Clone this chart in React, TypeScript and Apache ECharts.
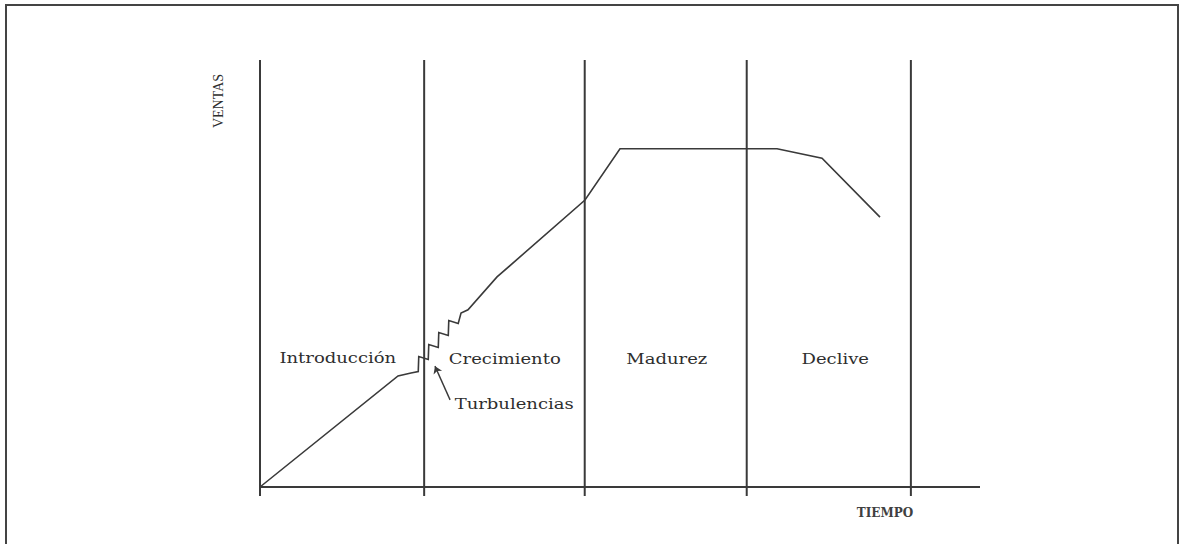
import React, { useEffect, useRef } from "react";
import * as echarts from "echarts";

// Sales curve (time units 0..100, sales units 0..100)
const salesX = [0, 19.17, 20.97, 21.98, 22.05, 23.37, 23.44, 24.76, 24.83, 26.15, 26.22, 27.53, 27.92, 28.89, 32.92, 45.14, 50.0, 71.81, 78.06, 86.11];
const salesY = [0, 26.0, 26.7, 27.05, 30.56, 29.86, 33.37, 32.67, 36.18, 35.48, 38.99, 38.29, 40.75, 41.5, 49.2, 67.2, 79.2, 79.2, 77.0, 63.2];

// Stage boundaries on the time axis
const stageBounds = [0, 22.8, 45.1, 67.6, 90.4];
const boundTop = 100;
const boundBottom = -2.1;
const axisEnd = 100;

// Stage labels
const stageLabels = ["Introducción", "Crecimiento", "Madurez", "Declive"];
const stageLabelX = [10.8, 34.0, 56.5, 79.9];
const stageLabelY = [30.2, 30.0, 30.0, 30.0];

// Annotation
const noteLabel = "Turbulencias";
const noteX = 35.3;
const noteY = 19.4;
const arrowFrom = [26.4, 20.4];
const arrowTo = [24.3, 28.3];

// Axis titles
const yTitle = "VENTAS";
const yTitlePos = [-5.7, 90.4];
const xTitle = "TIEMPO";
const xTitlePos = [86.8, -6.1];

const INK = "#3a3a3a";

export default function App() {
  const ref = useRef<HTMLDivElement>(null);
  useEffect(() => {
    if (!ref.current) return;
    const chart = echarts.init(ref.current, undefined, { renderer: "svg" });
    const series: any[] = [];
    stageBounds.forEach((b) => {
      series.push({
        type: "line",
        data: [[b, boundBottom], [b, boundTop]],
        symbol: "none",
        lineStyle: { color: INK, width: 2 },
        silent: true,
      });
    });
    series.push({
      type: "line",
      data: [[0, 0], [axisEnd, 0]],
      symbol: "none",
      lineStyle: { color: INK, width: 2 },
      silent: true,
    });
    series.push({
      type: "line",
      data: salesX.map((x, i) => [x, salesY[i]]),
      symbol: "none",
      lineStyle: { color: INK, width: 1.6, join: "miter" },
      silent: true,
      markLine: {
        silent: true,
        symbol: ["none", "arrow"],
        symbolSize: 7,
        label: { show: false },
        lineStyle: { color: INK, width: 1.4, type: "solid" },
        data: [[{ coord: arrowFrom }, { coord: arrowTo }]],
      },
    });

    const option: any = {
      animation: false,
      backgroundColor: "#ffffff",
      grid: { left: 188, right: 127, top: 60, bottom: 14.3 },
      xAxis: { type: "value", min: -10, max: 110, show: false },
      yAxis: { type: "value", min: -10, max: 100, show: false },
      series,
    };
    chart.setOption(option);

    const toPx = (p: number[]) => chart.convertToPixel({ gridIndex: 0 }, p) as number[];
    const font = "15px 'DejaVu Serif'";
    const fill = "#2e2e2e";
    const texts: any[] = [];
    stageLabels.forEach((t, i) => {
      const [x, y] = toPx([stageLabelX[i], stageLabelY[i]]);
      texts.push({
        type: "text", x, y, scaleX: 1.2, silent: true,
        style: { text: t, font, fill, textAlign: "center", textVerticalAlign: "middle" },
      });
    });
    {
      const [x, y] = toPx([noteX, noteY]);
      texts.push({
        type: "text", x, y, scaleX: 1.2, silent: true,
        style: { text: noteLabel, font, fill, textAlign: "center", textVerticalAlign: "middle" },
      });
    }
    {
      const [x, y] = toPx(yTitlePos);
      texts.push({
        type: "text", x, y, rotation: Math.PI / 2, silent: true,
        style: { text: yTitle, font: "14px 'Liberation Serif'", fill, textAlign: "center", textVerticalAlign: "middle" },
      });
    }
    {
      const [x, y] = toPx(xTitlePos);
      texts.push({
        type: "text", x, y, silent: true,
        style: { text: xTitle, font: "bold 12px 'DejaVu Serif'", fill: "#404040", textAlign: "center", textVerticalAlign: "middle" },
      });
    }
    chart.setOption({
      graphic: [
        {
          type: "rect", silent: true,
          shape: { x: 6, y: 5, width: 1172, height: 600 },
          style: { fill: "none", stroke: "#444", lineWidth: 2 },
        },
        ...texts,
      ],
    });
    return () => chart.dispose();
  }, []);
  return (
    <div
      ref={ref}
      style={{ position: "fixed", left: 0, top: 0, width: 1179, height: 544 }}
    />
  );
}
